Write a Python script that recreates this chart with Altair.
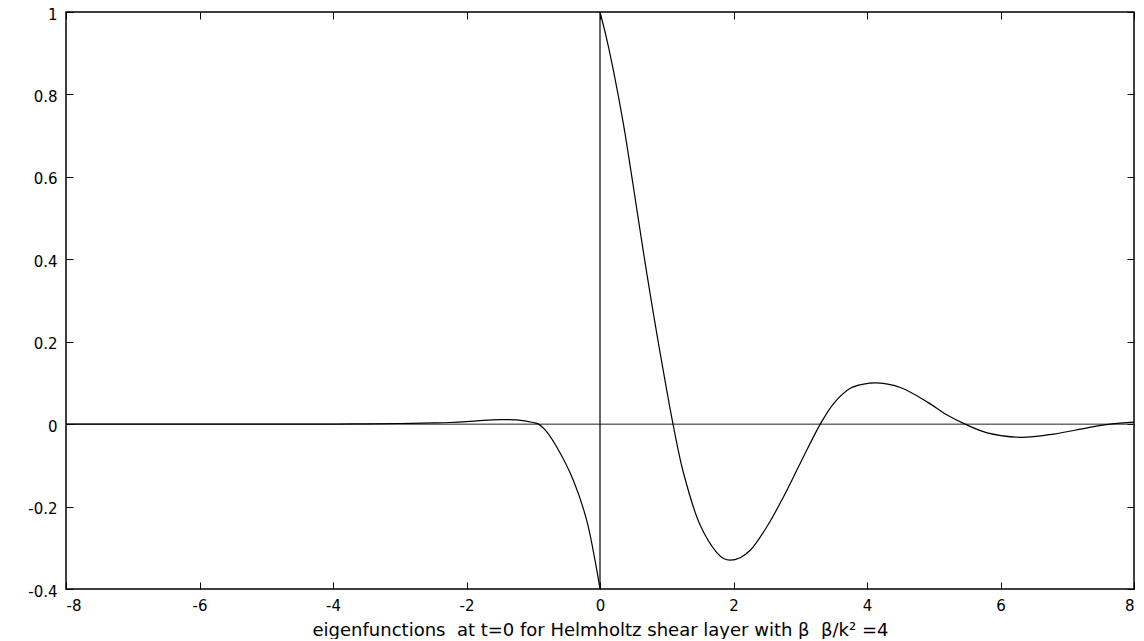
import altair as alt
import pandas as pd

# Left branch (x < 0) of the eigenfunction
x_left = [-8.0, -6.0, -4.0, -3.5, -3.0, -2.5, -2.25, -2.0, -1.75, -1.5, -1.25, -1.0,
          -0.92, -0.8, -0.65, -0.4, -0.2, -0.075, 0.0]
y_left = [0.0, 0.0, 0.0002, 0.0006, 0.0015, 0.003, 0.004, 0.006, 0.009, 0.0108, 0.0105, 0.004,
          0.0, -0.018, -0.055, -0.136, -0.233, -0.33, -0.4]

# Right branch (x > 0)
x_right = [0.0, 0.1, 0.2, 0.35, 0.5, 0.65, 0.8, 1.0, 1.1, 1.25, 1.5, 1.75, 1.85, 1.95, 2.1,
           2.25, 2.5, 2.75, 3.0, 3.3, 3.5, 3.75, 3.95, 4.15, 4.5, 4.9, 5.2, 5.47, 5.8, 6.3,
           6.8, 7.3, 7.64, 8.0]
y_right = [1.0, 0.935, 0.859, 0.729, 0.576, 0.418, 0.268, 0.082, -0.005, -0.118, -0.245,
           -0.312, -0.326, -0.330, -0.324, -0.306, -0.249, -0.176, -0.095, 0.0, 0.05, 0.087,
           0.097, 0.100, 0.089, 0.054, 0.022, 0.0, -0.021, -0.032, -0.024, -0.009, 0.0, 0.005]

x_ticks = [-8, -6, -4, -2, 0, 2, 4, 6, 8]
y_ticks = [-0.4, -0.2, 0, 0.2, 0.4, 0.6, 0.8, 1]
zero_level = [0]
NB = "\u00a0"
title_text = ("eigenfunctions" + NB + NB + "at t=0 for Helmholtz shear layer with \u03b2"
              + NB + NB + "\u03b2/k\u00b2 =4")

df = pd.DataFrame({
    "x": x_left + x_right,
    "y": y_left + y_right,
    "seg": ["L"] * len(x_left) + ["R"] * len(x_right),
})
jump = pd.DataFrame({"x": [x_left[-1]], "y": [y_left[-1]], "y2": [y_right[0]]})
zero = pd.DataFrame({"y": zero_level})

FONT = "DejaVu Sans"
xs = alt.Scale(domain=[x_ticks[0], x_ticks[-1]], nice=False, zero=False)
ys = alt.Scale(domain=[y_ticks[0], y_ticks[-1]], nice=False, zero=False)

common = dict(domain=False, grid=False, tickSize=7, offset=-7, tickColor="black",
              tickWidth=1)

bottom_axis = alt.Axis(orient="bottom", values=x_ticks, labelExpr="'' + datum.value",
                       labelPadding=9, labelFontSize=15, labelFont=FONT, labelColor="black",
                       title=title_text, titleFont=FONT, titleFontSize=18,
                       titleFontWeight="normal", titleColor="black", titlePadding=8,
                       **common)
left_axis = alt.Axis(orient="left", values=y_ticks, labelExpr="'' + datum.value",
                     labelPadding=9, labelFontSize=15, labelFont=FONT, labelColor="black",
                     labelOffset=2, title=None, **common)
top_axis = alt.Axis(orient="top", values=x_ticks, labels=False, title=None, **common)
right_axis = alt.Axis(orient="right", values=y_ticks, labels=False, title=None, **common)

zero_rule = alt.Chart(zero).mark_rule(color="#222222", strokeWidth=1).encode(
    y=alt.Y("y:Q", scale=ys, axis=None)
)

curve = alt.Chart(df).mark_line(color="black", strokeWidth=1.2,
                                interpolate="catmull-rom").encode(
    x=alt.X("x:Q", scale=xs, axis=bottom_axis),
    y=alt.Y("y:Q", scale=ys, axis=left_axis),
    detail="seg:N",
)

jump_rule = alt.Chart(jump).mark_rule(color="black", strokeWidth=1.2).encode(
    x=alt.X("x:Q", scale=xs, axis=top_axis),
    y=alt.Y("y:Q", scale=ys, axis=right_axis),
    y2="y2:Q",
)

chart = alt.layer(zero_rule, curve, jump_rule).resolve_axis(
    x="independent", y="independent"
).properties(
    width=1068,
    height=577,
    padding={"left": 58, "top": 4, "right": 2, "bottom": 50},
    autosize=alt.AutoSizeParams(type="none"),
    background="white",
).configure_view(
    stroke="black", strokeWidth=1.5
)

chart.save("out.html", embed_options={"renderer": "svg", "actions": False})
